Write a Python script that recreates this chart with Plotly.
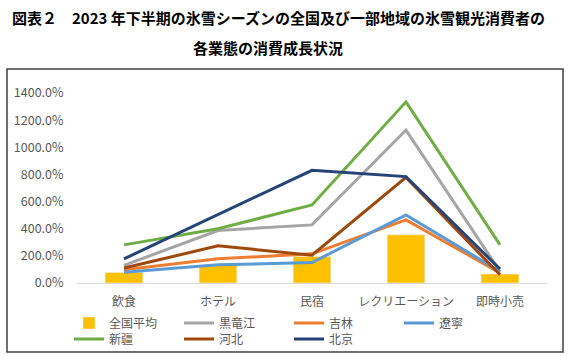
import plotly.graph_objects as go

categories = ["飲食", "ホテル", "民宿", "レクリエーション", "即時小売"]
national_avg = [78, 130, 196, 355, 66]
heilongjiang = [130, 387, 428, 1127, 85]
jilin = [98, 178, 215, 465, 75]
liaoning = [80, 134, 151, 502, 85]
xinjiang = [281, 400, 575, 1335, 281]
hebei = [110, 274, 205, 778, 61]
beijing = [178, 502, 830, 784, 103]

line_series = [
    ("黒竜江", heilongjiang, "#A5A5A5", "legend"),
    ("吉林", jilin, "#ED7D31", "legend"),
    ("遼寧", liaoning, "#5B9BD5", "legend"),
    ("新疆", xinjiang, "#70AD47", "legend2"),
    ("河北", hebei, "#9E480E", "legend2"),
    ("北京", beijing, "#264478", "legend2"),
]
y_ticks = [0, 200, 400, 600, 800, 1000, 1200, 1400]

CJK = "Noto Sans CJK JP"
fig = go.Figure()
fig.add_trace(go.Bar(x=categories, y=national_avg, name="全国平均",
                     marker_color="#FFC000", width=0.4, legend="legend"))
for name, vals, color, lg in line_series:
    fig.add_trace(go.Scatter(x=categories, y=vals, name=name, mode="lines",
                             line=dict(color=color, width=3), legend=lg))

# pixel layout helpers
L, R, T, B = 77, 22, 93, 74
W, H = 569, 357
pw, ph = W - L - R, H - T - B
def px(x):
    return (x - L) / pw
def py(y):
    return (H - B - y) / ph

legend_common = dict(orientation="h", xanchor="left", yanchor="middle",
                     entrywidth=65, entrywidthmode="pixels",
                     font=dict(size=12, color="#595959", family=CJK),
                     bgcolor="rgba(0,0,0,0)", borderwidth=0)

fig.update_layout(
    width=W, height=H,
    margin=dict(l=L, r=R, t=T, b=B, autoexpand=False),
    paper_bgcolor="white", plot_bgcolor="white",
    font=dict(family=CJK, color="#595959", size=12),
    showlegend=True,
    legend=dict(x=px(69), y=py(323), **legend_common),
    legend2=dict(x=px(69), y=py(339), **legend_common),
    xaxis=dict(showgrid=False, showline=True, linecolor="#D9D9D9", linewidth=1,
               ticks="outside", ticklen=8, tickcolor="rgba(0,0,0,0)",
               tickfont=dict(size=12, color="#595959", family=CJK)),
    yaxis=dict(range=[0, 1400], tickvals=y_ticks,
               ticktext=[f"{v:.1f}%" for v in y_ticks],
               showgrid=False, zeroline=False, showline=False,
               ticks="outside", ticklen=10, tickcolor="rgba(0,0,0,0)",
               tickfont=dict(size=12.5, color="#595959", family=CJK)),
    bargap=0.6,
    shapes=[dict(type="rect", xref="paper", yref="paper",
                 x0=px(7), x1=px(563), y0=py(352), y1=py(69),
                 line=dict(color="#404040", width=1.5))],
    annotations=[
        dict(text="図表２　2023 年下半期の氷雪シーズンの全国及び一部地域の氷雪観光消費者の",
             xref="paper", yref="paper", x=px(278), y=py(17), xanchor="center",
             yanchor="middle", showarrow=False,
             font=dict(size=15, color="black", family=CJK, weight="bold")),
        dict(text="各業態の消費成長状況",
             xref="paper", yref="paper", x=px(268), y=py(48), xanchor="center",
             yanchor="middle", showarrow=False,
             font=dict(size=15, color="black", family=CJK, weight="bold")),
    ],
)
fig.write_html("out.html",
               config={"displayModeBar": False},
               post_script="document.body.style.margin='0';document.body.style.padding='0';")
